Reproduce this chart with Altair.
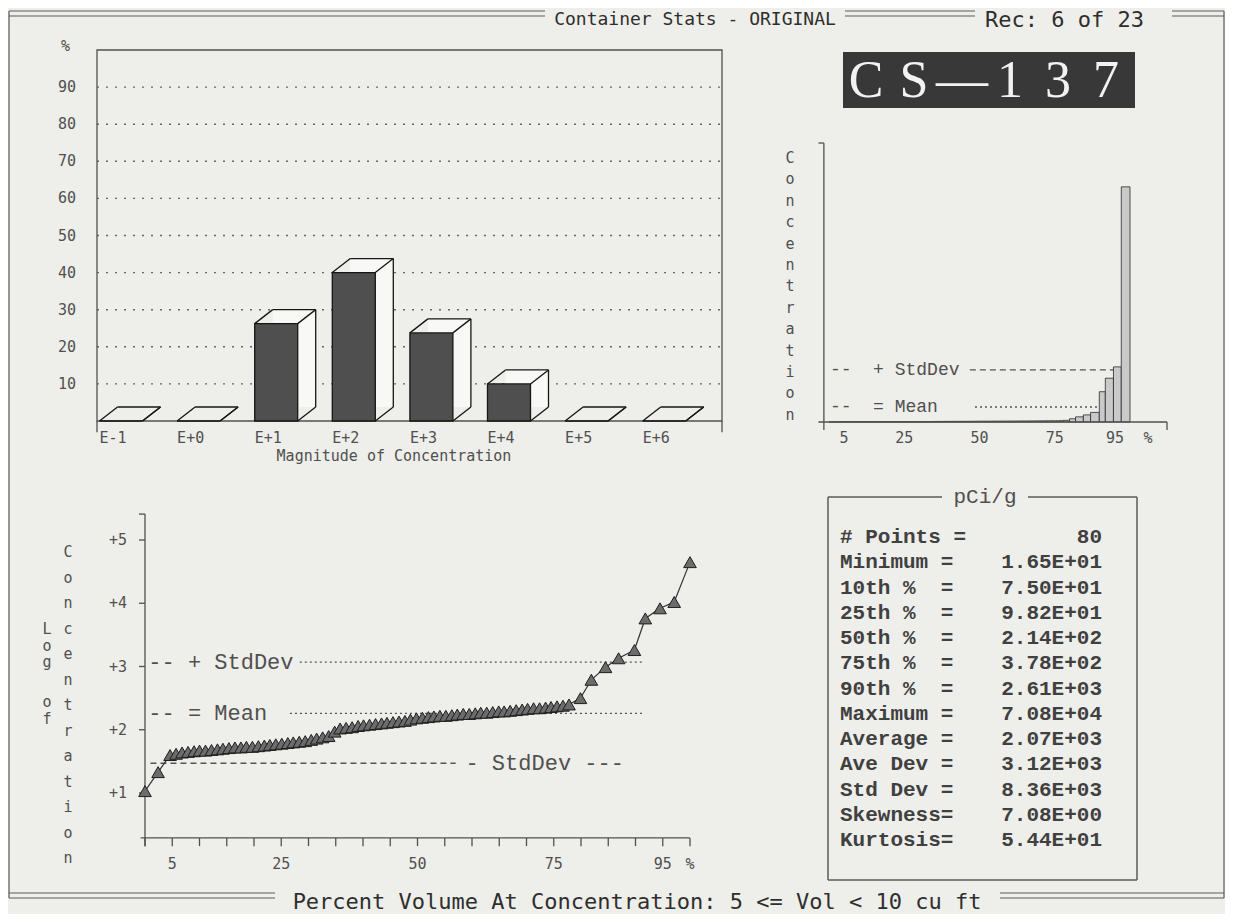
import altair as alt
import pandas as pd

# ---------------- values ----------------
magnitudes = ["E-1", "E+0", "E+1", "E+2", "E+3", "E+4", "E+5", "E+6"]
magnitude_pct = [0.0, 0.0, 26.25, 40.0, 23.75, 10.0, 0.0, 0.0]
pct_ticks = [10, 20, 30, 40, 50, 60, 70, 80, 90]

volume_pct = [0.0, 2.4, 4.6, 5.7, 6.8, 7.9, 9.0, 10.0, 11.1, 12.2, 13.3, 14.3, 15.4,
              16.5, 17.6, 18.6, 19.7, 20.8, 21.9, 22.9, 24.0, 25.1, 26.2,
              27.2, 28.3, 29.4, 30.5, 31.5, 32.6, 33.7, 34.8, 35.8, 36.9,
              38.0, 39.1, 40.1, 41.2, 42.3, 43.4, 44.4, 45.5, 46.6, 47.7,
              48.7, 49.8, 50.9, 52.0, 53.0, 54.1, 55.2, 56.3, 57.3, 58.4,
              59.5, 60.6, 61.6, 62.7, 63.8, 64.9, 65.9, 67.0, 68.1, 69.2,
              70.2, 71.3, 72.4, 73.5, 74.5, 75.6, 76.7, 77.8,
              79.9, 81.9, 84.5, 86.9, 89.8, 91.8, 94.5, 97.1, 100.0]
log_conc = [1.03, 1.33, 1.60, 1.62, 1.64, 1.65, 1.66, 1.67, 1.67, 1.68, 1.69, 1.70, 1.71,
            1.72, 1.72, 1.73, 1.73, 1.74, 1.75, 1.76, 1.77, 1.78, 1.79,
            1.80, 1.81, 1.82, 1.84, 1.86, 1.88, 1.90, 1.97, 2.02, 2.03,
            2.04, 2.06, 2.07, 2.08, 2.09, 2.10, 2.11, 2.12, 2.13, 2.14,
            2.16, 2.18, 2.19, 2.20, 2.21, 2.22, 2.22, 2.23, 2.24, 2.25,
            2.25, 2.26, 2.27, 2.27, 2.28, 2.29, 2.29, 2.30, 2.31, 2.32,
            2.33, 2.34, 2.34, 2.35, 2.36, 2.37, 2.38, 2.40,
            2.50, 2.79, 2.99, 3.13, 3.26, 3.76, 3.92, 4.02, 4.65]

log_ticks = [1, 2, 3, 4, 5]
log_tick_labels = ["+1", "+2", "+3", "+4", "+5"]
vol_ticks = list(range(0, 105, 5))
vol_labels = ["5", "25", "50", "75", "95"]
vol_label_at = [5, 25, 50, 75, 95]

log_mean, log_sd_hi, log_sd_lo = 2.26, 3.07, 1.47
lin_mean, lin_sd_hi = 2850, 9900

stat_names = ["# Points =", "Minimum =", "10th %\u00a0\u00a0=", "25th %\u00a0\u00a0=",
              "50th %\u00a0\u00a0=", "75th %\u00a0\u00a0=", "90th %\u00a0\u00a0=",
              "Maximum =", "Average =", "Ave Dev =", "Std Dev =", "Skewness=", "Kurtosis="]
stat_values = ["80", "1.65E+01", "7.50E+01", "9.82E+01", "2.14E+02", "3.78E+02",
               "2.61E+03", "7.08E+04", "2.07E+03", "3.12E+03", "8.36E+03",
               "7.08E+00", "5.44E+01"]

title_text = "Container Stats - ORIGINAL"
rec_text = "Rec: 6 of 23"
footer_text = "Percent Volume At Concentration: 5 <= Vol < 10 cu ft"
nuclide_chars = ["C", "S", "\u2014", "1", "3", "7"]
unit_text = "pCi/g"
conc_word = "Concentration"

# ---------------- layout / style ----------------
OFF = 8
W, H = 1217, 906
BG = "#eeeeea"
INK = "#2e2e2e"
SOFT = "#505050"
MONO = "DejaVu Sans Mono"
WIDE = "Liberation Mono"
SERIF = "Liberation Serif"
NB = "\u00a0"


def sc(domain, rng):
    return alt.Scale(domain=list(domain), range=[rng[0] - OFF, rng[1] - OFF],
                     nice=False, zero=False)


def ax(f, s):
    return alt.X(f, scale=s, axis=None)


def ay(f, s):
    return alt.Y(f, scale=s, axis=None, stack=None)


def segs(rows, sx, sy, **mk):
    df = pd.DataFrame(rows, columns=["x", "x2", "y", "y2"])
    return alt.Chart(df).mark_rule(**mk).encode(
        x=ax("x:Q", sx), x2="x2:Q", y=ay("y:Q", sy), y2="y2:Q")


def boxes(rows, sx, sy, **mk):
    df = pd.DataFrame(rows, columns=["x", "x2", "y", "y2"])
    return alt.Chart(df).mark_rect(**mk).encode(
        x=ax("x:Q", sx), x2="x2:Q", y=ay("y:Q", sy), y2="y2:Q")


def texts(df, sx, sy, **mk):
    return alt.Chart(df).mark_text(**mk).encode(
        x=ax("x:Q", sx), y=ay("y:Q", sy), text="t:N")


def vword(word, x_page, y0, step, size):
    df = pd.DataFrame({"t": list(word), "i": list(range(len(word)))})
    ys = sc([0, 1], [y0, y0 + step])
    return alt.Chart(df).mark_text(font=MONO, fontSize=size, color=SOFT,
                                   align="center", baseline="middle").encode(
        x=alt.value(x_page - OFF), y=ay("i:Q", ys), text="t:N")


PX = sc([0, 1233], [0, 1233])
PY = sc([0, 922], [0, 922])
L = []

# ---------------- page frame & titles ----------------
frame_rows = [
    (9, 545, 11, 11), (9, 545, 16, 16),
    (845, 975, 11, 11), (845, 975, 16, 16),
    (1172, 1224, 11, 11), (1172, 1224, 16, 16),
    (9, 9, 11, 898), (1224, 1224, 11, 898),
    (9, 275, 893, 893), (9, 275, 898, 898),
    (1000, 1224, 893, 893), (1000, 1224, 898, 898),
]
L.append(segs(frame_rows, PX, PY, color="#5a5a5a", strokeWidth=1.2))
L.append(texts(pd.DataFrame({"t": [title_text], "x": [695], "y": [20]}), PX, PY,
               font=MONO, fontSize=18, color=INK, align="center", baseline="middle"))
L.append(texts(pd.DataFrame({"t": [rec_text], "x": [985], "y": [20]}), PX, PY,
               font=MONO, fontSize=22, color=INK, align="left", baseline="middle"))
L.append(texts(pd.DataFrame({"t": [footer_text], "x": [637], "y": [902]}), PX, PY,
               font=MONO, fontSize=22, color=INK, align="center", baseline="middle"))

# ---------------- CS-137 plate ----------------
L.append(boxes([(843, 1135, 52, 108)], PX, PY, color="#383838"))
nuc = pd.DataFrame({"t": nuclide_chars, "i": list(range(len(nuclide_chars)))})
L.append(alt.Chart(nuc).mark_text(font=SERIF, fontSize=52, color="#f2f2f2",
                                  align="center", baseline="alphabetic").encode(
    x=ax("i:Q", sc([0, 5], [866, 1106])), y=alt.value(97 - OFF), text="t:N"))

# ---------------- magnitude bar chart ----------------
A_L, A_R, A_B, A_T = 97, 722, 421, 50
A_STEP = 77.6
A_XMAX = (A_R - A_L) / A_STEP
xA = sc([0, A_XMAX], [A_L, A_R])
yA = sc([0, 100], [A_B, A_T])
BAR_OFF, BAR_W, DX = 2.5 / A_STEP, 43 / A_STEP, 18 / A_STEP
DY = 14 / ((A_B - A_T) / 100.0)

L.append(segs([(0, A_XMAX, t, t) for t in pct_ticks], xA, yA,
              color="#666666", strokeWidth=1.4, strokeDash=[2, 7]))
L.append(boxes([(0, A_XMAX, 0, 100)], xA, yA, fillOpacity=0, stroke=SOFT, strokeWidth=1.3))
L.append(segs([(0, 0, -3, 0), (A_XMAX, A_XMAX, -3, 0)], xA, yA, color=SOFT, strokeWidth=1.3))

back_rows, edge_rows, front_rows = [], [], []
for i, v in enumerate(magnitude_pct):
    xl = i + BAR_OFF
    xr = xl + BAR_W
    back_rows.append((xl + DX, xr + DX, DY, v + DY))
    edge_rows += [(xl + DX, xr + DX, v + DY, v + DY), (xr + DX, xr + DX, DY, v + DY),
                  (xl, xl + DX, v, v + DY), (xr, xr + DX, v, v + DY), (xr, xr + DX, 0, DY)]
    front_rows.append((xl, xr, 0, v))
L.append(boxes(back_rows, xA, yA, fill="#f8f8f6", strokeWidth=0))
L.append(segs(edge_rows, xA, yA, color="#161616", strokeWidth=1.3))
L.append(boxes(front_rows, xA, yA, fill="#4f4f4f", stroke="#161616", strokeWidth=1.3))

L.append(texts(pd.DataFrame({"t": [str(t) for t in pct_ticks], "x": 0.0, "y": pct_ticks}),
               xA, yA, font=MONO, fontSize=15, color=SOFT, align="right",
               baseline="middle", dx=-21))
L.append(texts(pd.DataFrame({"t": ["%"], "x": [0.0], "y": [101.0]}), xA, yA,
               font=MONO, fontSize=15, color=SOFT, align="right", baseline="middle", dx=-27))
L.append(texts(pd.DataFrame({"t": magnitudes,
                             "x": [i + BAR_OFF for i in range(len(magnitudes))],
                             "y": 0.0}), xA, yA, font=MONO, fontSize=15, color=SOFT,
               align="left", baseline="middle", dy=17))
L.append(texts(pd.DataFrame({"t": ["Magnitude of Concentration"], "x": [A_XMAX / 2 - 0.2],
                             "y": [0.0]}), xA, yA, font=MONO, fontSize=15, color=SOFT,
               align="center", baseline="middle", dy=35))

# ---------------- linear concentration profile ----------------
xB = sc([0, 100], [829, 1130])
yB = sc([0, 53000], [422, 143])
hist = pd.DataFrame({"x1": volume_pct, "log": log_conc})
hist["x0"] = [0.0] + volume_pct[:-1]
L.append(segs([(46.8, 97.0, lin_sd_hi, lin_sd_hi)], xB, yB, color="#555555",
              strokeWidth=1.3, strokeDash=[6, 4]))
L.append(segs([(48.5, 95.0, lin_mean, lin_mean)], xB, yB, color="#555555",
              strokeWidth=1.3, strokeDash=[2, 3]))
L.append(alt.Chart(hist).transform_calculate(conc="pow(10, datum.log)").mark_rect(
    fill="#c9c9c9", stroke="#2a2a2a", strokeWidth=0.8).encode(
    x=ax("x0:Q", xB), x2="x1:Q", y=ay("conc:Q", yB), y2=alt.datum(0)))
L.append(segs([(-1.7, -1.7, -1500, 53000), (-3.5, -1.7, 53000, 53000), (-3.5, 112.3, 0, 0),
               (112.3, 112.3, -1500, 0)], xB, yB, color=SOFT, strokeWidth=1.3))
L.append(texts(pd.DataFrame({"t": ["--" + NB * 2 + "+" + NB + "StdDev",
                                   "--" + NB * 2 + "=" + NB + "Mean"],
                             "x": [0.3, 0.3], "y": [lin_sd_hi, lin_mean]}), xB, yB,
               font=WIDE, fontSize=18, color=SOFT, align="left", baseline="middle"))
L.append(texts(pd.DataFrame({"t": vol_labels, "x": vol_label_at, "y": 0.0}), xB, yB,
               font=MONO, fontSize=15, color=SOFT, align="center", baseline="middle", dy=16))
L.append(texts(pd.DataFrame({"t": ["%"], "x": [106.0], "y": [0.0]}), xB, yB,
               font=MONO, fontSize=15, color=SOFT, align="center", baseline="middle", dy=16))
L.append(vword(conc_word, 790, 158, 21.4, 15))

# ---------------- log concentration profile ----------------
xC = sc([0, 100], [145, 690])
yC = sc([0, 5], [856.25, 540])
Y_BASE, Y_TOP = 0.29, 5.41
L.append(segs([(0, 0, Y_BASE - 0.13, Y_TOP), (-0.8, 100, Y_BASE, Y_BASE),
               (-1.1, 0, Y_TOP, Y_TOP)] +
              [(-1.1, 0, v, v) for v in log_ticks] +
              [(t, t, Y_BASE, Y_BASE - 0.13) for t in vol_ticks],
              xC, yC, color=SOFT, strokeWidth=1.3))
L.append(segs([(28.4, 91.4, log_sd_hi, log_sd_hi), (26.6, 91.4, log_mean, log_mean)],
              xC, yC, color="#555555", strokeWidth=1.3, strokeDash=[2, 3]))
L.append(segs([(1.0, 57.0, log_sd_lo, log_sd_lo)], xC, yC, color="#555555",
              strokeWidth=1.3, strokeDash=[6, 4]))
L.append(texts(pd.DataFrame({"t": ["--" + NB + "+" + NB + "StdDev",
                                   "--" + NB + "=" + NB + "Mean",
                                   "-" + NB + "StdDev" + NB + "---"],
                             "x": [0.6, 0.6, 58.8],
                             "y": [log_sd_hi, log_mean, log_sd_lo]}), xC, yC,
               font=WIDE, fontSize=22, color=SOFT, align="left", baseline="middle"))
prof = pd.DataFrame({"pct": volume_pct, "log": log_conc})
L.append(alt.Chart(prof).mark_line(color="#333333", strokeWidth=1.2).encode(
    x=ax("pct:Q", xC), y=ay("log:Q", yC), order=alt.Order("pct:Q")))
L.append(alt.Chart(prof).mark_point(shape="triangle-up", size=160, filled=True,
                                    fill="#6c6c6c", stroke="#1e1e1e", strokeWidth=1,
                                    opacity=1).encode(
    x=ax("pct:Q", xC), y=ay("log:Q", yC)))
L.append(texts(pd.DataFrame({"t": log_tick_labels, "x": 0.0, "y": log_ticks}), xC, yC,
               font=MONO, fontSize=15, color=SOFT, align="right", baseline="middle", dx=-18))
L.append(texts(pd.DataFrame({"t": vol_labels + ["%"], "x": vol_label_at + [100],
                             "y": Y_BASE}), xC, yC,
               font=MONO, fontSize=15, color=SOFT, align="center", baseline="middle", dy=26))
L.append(vword(conc_word, 68, 552, 25.5, 15))
L.append(vword("Log", 47, 629, 16.5, 15))
L.append(vword("of", 47, 702, 16.5, 15))

# ---------------- statistics box ----------------
L.append(segs([(828, 828, 497, 880), (1137, 1137, 497, 880), (828, 1137, 880, 880),
               (828, 942, 497, 497), (1028, 1137, 497, 497)], PX, PY,
              color="#5a5a5a", strokeWidth=1.5))
L.append(texts(pd.DataFrame({"t": [unit_text], "x": [985], "y": [497]}), PX, PY,
               font=WIDE, fontSize=21, color=SOFT, align="center", baseline="middle"))
rows = pd.DataFrame({"name": stat_names, "val": stat_values,
                     "r": list(range(len(stat_names)))})
yR = sc([0, 12], [537, 840])
L.append(alt.Chart(rows).mark_text(font=WIDE, fontSize=21, fontWeight="bold", color="#404040",
                                   align="left", baseline="middle").encode(
    x=alt.value(840 - OFF), y=ay("r:Q", yR), text="name:N"))
L.append(alt.Chart(rows).mark_text(font=WIDE, fontSize=21, fontWeight="bold", color="#404040",
                                   align="right", baseline="middle").encode(
    x=alt.value(1102 - OFF), y=ay("r:Q", yR), text="val:N"))

chart = alt.layer(*L).resolve_scale(x="independent", y="independent").properties(
    width=W, height=H, autosize=alt.AutoSizeParams(type="none"), padding=0,
    background=BG
).configure_view(strokeWidth=0)

chart.save("out.html", embed_options={"renderer": "svg", "actions": False})
